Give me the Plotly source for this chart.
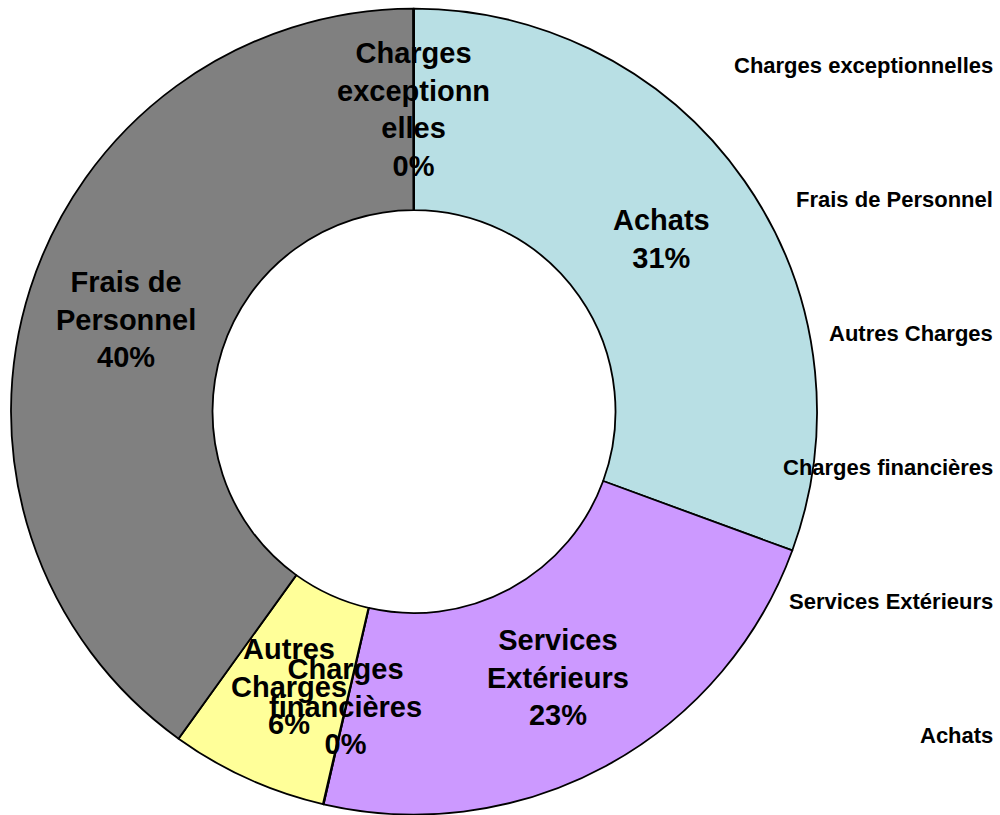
import math
import plotly.graph_objects as go

# ---- data ----
categories = ["Achats", "Services Extérieurs", "Charges financières",
              "Autres Charges", "Frais de Personnel", "Charges exceptionnelles"]
values = [30.6, 23.0, 0.03, 6.3, 40.04, 0.03]
colors = ["#B8DFE4", "#CC99FF", "#FFFFFF", "#FFFF99", "#808080", "#FFFFFF"]
# wrapped text as drawn inside the ring
display_labels = ["Achats", "Services<br>Extérieurs", "Charges<br>financières",
                  "Autres<br>Charges", "Frais de<br>Personnel",
                  "Charges<br>exceptionn<br>elles"]

W, H = 1000, 815
dom_x = [0.011, 0.817]
dom_y = [0.0, 0.99]
hole = 0.5

fig = go.Figure(go.Pie(
    labels=categories, values=values, sort=False, direction="clockwise",
    rotation=0, hole=hole, textinfo="none", hoverinfo="label+percent",
    marker=dict(colors=colors, line=dict(color="black", width=1.8)),
    domain=dict(x=dom_x, y=dom_y), showlegend=False,
))

# geometry of the pie in pixels (from the domain)
cx = (dom_x[0] + dom_x[1]) / 2 * W
cy = (1 - (dom_y[0] + dom_y[1]) / 2) * H
R = min((dom_x[1] - dom_x[0]) * W, (dom_y[1] - dom_y[0]) * H) / 2
rmid = R * (1 + hole) / 2

total = sum(values)
font_lbl = dict(family="Liberation Sans, Arial", size=29, color="black")
annotations = []
cum = 0.0
for cat, v, dl in zip(categories, values, display_labels):
    mid = (cum + v / 2) / total * 2 * math.pi
    cum += v
    px = cx + rmid * math.sin(mid)
    py = cy - rmid * math.cos(mid)
    pct = round(100 * v / total)
    annotations.append(dict(
        x=px / W, y=1 - py / H, xref="paper", yref="paper",
        text=f"<b>{dl}<br>{pct}%</b>", showarrow=False,
        xanchor="center", yanchor="middle", font=font_lbl, align="center"))

# legend as text only (reverse order), right aligned
font_leg = dict(family="Liberation Sans, Arial", size=22, color="black")
leg_top, leg_step = 66, 133.8
for i, cat in enumerate(reversed(categories)):
    py = leg_top + i * leg_step
    annotations.append(dict(
        x=995 / W, y=1 - py / H, xref="paper", yref="paper",
        text=f"<b>{cat}</b>", showarrow=False, xanchor="right",
        yanchor="middle", font=font_leg, align="right"))

fig.update_layout(
    width=W, height=H, margin=dict(l=0, r=0, t=0, b=0),
    paper_bgcolor="white", plot_bgcolor="white",
    annotations=annotations,
)
fig.write_html(
    "out.html",
    config={"displayModeBar": False},
    post_script="document.body.style.margin='0';document.body.style.overflow='hidden';",
)
